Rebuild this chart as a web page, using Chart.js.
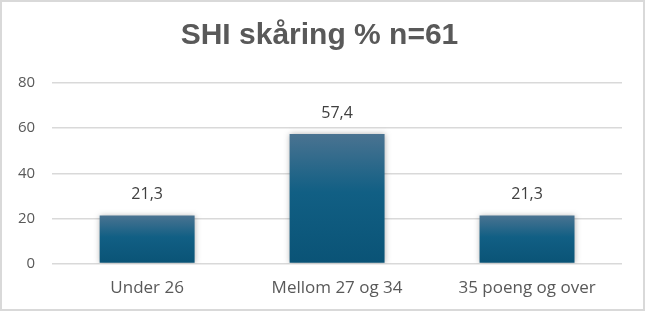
<!DOCTYPE html>
<html>
<head>
<meta charset="utf-8">
<script src="https://cdn.jsdelivr.net/npm/chart.js@4"></script>
<style>
    html, body { margin: 0; padding: 0; background: #fff; }
    .chart-container {
        width: 645px; height: 311px; box-sizing: border-box;
        border: 2px solid #d9d9d9; position: relative;
    }
</style>
</head>
<body>
<div class="chart-container"><canvas id="shiChart"></canvas></div>
<script>
const categories = ['Under 26', 'Mellom 27 og 34', '35 poeng og over'];
const percentValues = [21.3, 57.4, 21.3];
const yTicks = [0, 20, 40, 60, 80];

const tickFont = '"Open Sans", "Liberation Sans", sans-serif';

// gradient from bar top to the zero line
function barFill(context) {
    const chart = context.chart;
    const { ctx, scales } = chart;
    if (!scales.y) return '#0b5577';
    const top = scales.y.getPixelForValue(context.raw);
    const base = scales.y.getPixelForValue(0);
    if (!isFinite(top) || !isFinite(base) || top === base) return '#0b5577';
    const g = ctx.createLinearGradient(0, top, 0, base);
    g.addColorStop(0, '#4a7391');
    g.addColorStop(0.45, '#115f84');
    g.addColorStop(1, '#0a5376');
    return g;
}

const barShadow = {
    id: 'barShadow',
    beforeDatasetsDraw(chart) {
        const ctx = chart.ctx;
        ctx.save();
        ctx.shadowColor = 'rgba(0,0,0,0.3)';
        ctx.shadowBlur = 6;
    },
    afterDatasetsDraw(chart) {
        chart.ctx.restore();
    },
};

const valueLabels = {
    id: 'valueLabels',
    afterDatasetsDraw(chart) {
        const ctx = chart.ctx;
        const meta = chart.getDatasetMeta(0);
        ctx.save();
        ctx.font = '16px ' + tickFont;
        ctx.fillStyle = '#404040';
        ctx.textAlign = 'center';
        ctx.textBaseline = 'middle';
        meta.data.forEach((bar, i) => {
            const txt = percentValues[i].toFixed(1).replace('.', ',');
            ctx.fillText(txt, bar.x, bar.y - 21);
        });
        ctx.restore();
    },
};

new Chart(document.getElementById('shiChart'), {
    type: 'bar',
    data: {
        labels: categories,
        datasets: [{
            label: 'SHI skåring %',
            data: percentValues,
            backgroundColor: barFill,
            borderWidth: 0,
            categoryPercentage: 1,
            barPercentage: 0.5,
        }],
    },
    options: {
        responsive: true,
        maintainAspectRatio: false,
        animation: false,
        layout: { padding: { left: -1, right: 5, top: 0, bottom: 5 } },
        plugins: {
            legend: { display: false },
            tooltip: { enabled: false },
            title: {
                display: true,
                text: 'SHI skåring % n=61',
                color: '#595959',
                font: { family: '"Liberation Sans", Arial, sans-serif', size: 30, weight: 'bold' },
                padding: { top: 16, bottom: 29 },
            },
        },
        scales: {
            x: {
                grid: { display: false },
                border: { display: false },
                ticks: {
                    color: '#595959',
                    font: { family: tickFont, size: 17 },
                    padding: 6,
                },
            },
            y: {
                min: 0,
                max: 80,
                afterBuildTicks: axis => { axis.ticks = yTicks.map(v => ({ value: v })); },
                grid: { color: '#d9d9d9', lineWidth: 1.5, drawTicks: false },
                border: { display: false },
                ticks: {
                    color: '#595959',
                    font: { family: tickFont, size: 15 },
                    padding: 17,
                },
            },
            // empty spacer on the right so the plot keeps its right edge
            ySpacer: {
                position: 'right',
                display: true,
                grid: { display: false },
                border: { display: false },
                ticks: { display: false },
                afterFit: axis => { axis.width = 16; },
            },
        },
    },
    plugins: [barShadow, valueLabels],
});
</script>
</body>
</html>
